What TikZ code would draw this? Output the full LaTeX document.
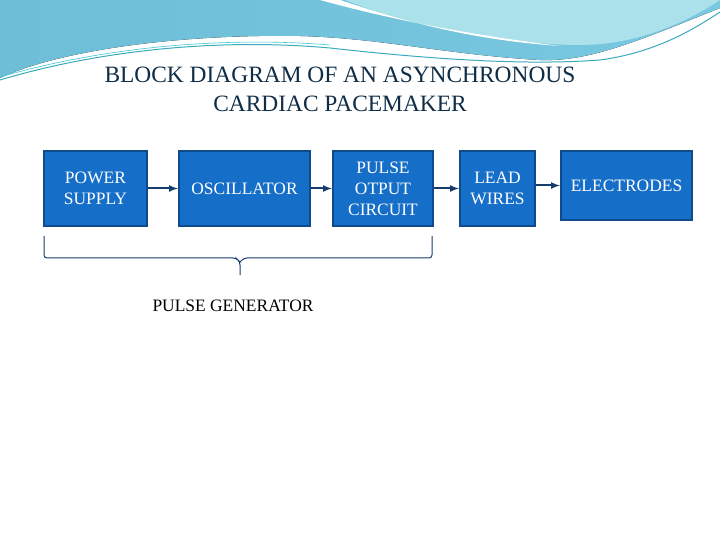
\documentclass[tikz,border=0pt]{standalone}
\usepackage{fontspec}
\setmainfont{Liberation Serif}
\definecolor{bfill}{RGB}{21,110,200}
\definecolor{bdraw}{RGB}{15,75,140}
\definecolor{ln}{RGB}{20,60,110}
\definecolor{sk1}{RGB}{110,190,215}
\definecolor{sk2}{RGB}{120,200,225}
\definecolor{sk3}{RGB}{170,225,235}
\definecolor{sl1}{RGB}{60,170,190}
\definecolor{sl2}{RGB}{60,200,215}
\definecolor{ttl}{RGB}{15,45,70}
\begin{document}
\begin{tikzpicture}[x=1bp,y=-1bp,
  blk/.style={draw=bdraw, line width=2.2bp, fill=bfill, text=white, align=center, font=\fontsize{17.5}{21}\selectfont, inner sep=0pt},
  arr/.style={draw=ln, line width=2bp, -latex}]
\useasboundingbox (0,0) rectangle (720,540);
\fill[white] (0,0) rectangle (720,540);
% top decoration
\fill[left color=sk1, right color=sk2]
  (0,0) -- (720,0) -- (720,8) .. controls (640,40) and (590,62) .. (540,60)
  .. controls (450,55) and (380,38) .. (300,36) .. controls (180,34) and (60,50) .. (0,78) -- cycle;
\fill[sk3] (345,0) .. controls (420,30) and (520,45) .. (580,45)
  .. controls (640,45) and (690,20) .. (720,0) -- cycle;
\fill[white] (320,0) .. controls (400,22) and (480,36) .. (560,46) .. controls (470,40) and (400,20) .. (340,0) -- cycle;
\draw[sl1, line width=1bp] (0,80) .. controls (100,50) and (220,38) .. (330,48) .. controls (420,58) and (520,66) .. (600,60) .. controls (660,52) and (700,25) .. (720,12);
\draw[sl2, line width=0.6bp] (0,77) .. controls (100,48) and (220,36) .. (330,45);
% title
\node[text=ttl, align=center, font=\fontsize{23.5}{29}\selectfont] (title) at (340,89) {BLOCK DIAGRAM OF AN ASYNCHRONOUS\\CARDIAC PACEMAKER};
% blocks
\node[blk, minimum width=103bp, minimum height=75bp] (ps) at (95.5,188.5) {POWER\\SUPPLY};
\node[blk, minimum width=131bp, minimum height=75bp] (osc) at (244.5,188.5) {OSCILLATOR};
\node[blk, minimum width=100bp, minimum height=75bp] (poc) at (383,188.5) {PULSE\\OTPUT\\CIRCUIT};
\node[blk, minimum width=75bp, minimum height=75bp] (lw) at (497.5,188.5) {LEAD\\WIRES};
\node[blk, minimum width=131bp, minimum height=69bp] (el) at (626.5,185.5) {ELECTRODES};
\draw[arr] (ps) -- (osc);
\draw[arr] (osc) -- (poc);
\draw[arr] (poc) -- (lw);
\draw[arr] (lw.east |- el.west) -- (el.west);
% brace
\coordinate (b1) at (44,236);
\coordinate (b2) at (432,236);
\coordinate (bt) at (240,275);
\draw[ln, line width=1bp, rounded corners=3bp]
  (b1) -- (44,258) -- (236,258) -- (240,262) -- (bt);
\draw[ln, line width=1bp, rounded corners=3bp]
  (b2) -- (432,258) -- (244,258) -- (240,262);
\node[font=\fontsize{17.5}{21}\selectfont] (pg) at (233,306) {PULSE GENERATOR};
\end{tikzpicture}
\end{document}
